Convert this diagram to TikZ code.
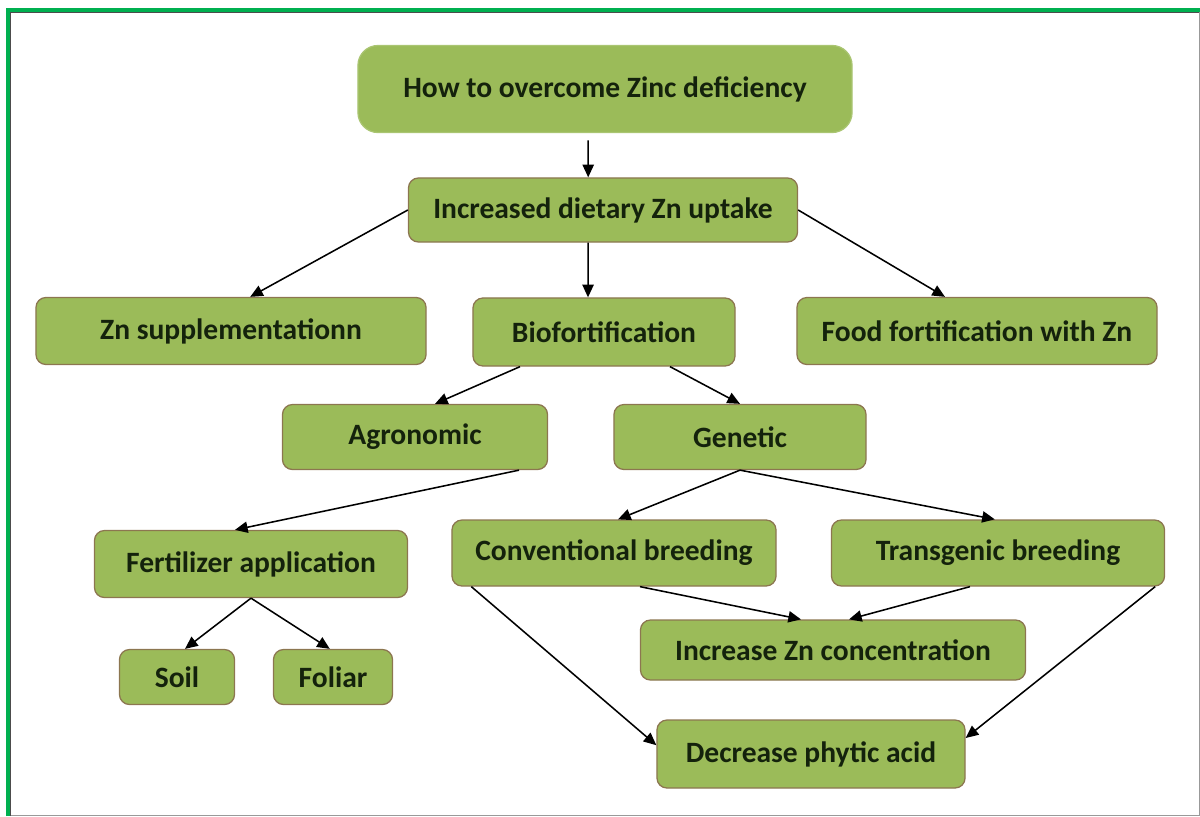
\documentclass[tikz,border=0pt]{standalone}
\usepackage{fontspec}
\setmainfont{Carlito}
\usetikzlibrary{positioning}
\usetikzlibrary{arrows.meta}
\definecolor{ZNgreen}{HTML}{9BBB59}
\definecolor{ZNedge}{HTML}{8C7650}
\definecolor{ZNtext}{HTML}{14220C}
\definecolor{ZNframe}{HTML}{00B050}

\begin{document}
\begin{tikzpicture}[x=0.025cm,y=-0.025cm,
  box/.style={draw=ZNedge,line width=0.9pt,fill=ZNgreen,rounded corners=0.25cm,
    text=ZNtext,font=\fontsize{21}{24}\selectfont\bfseries,inner sep=0pt},
  topbox/.style={box,draw=ZNgreen!85!white,rounded corners=0.5cm},
  link/.style={->,line width=1.1pt},
  >={Triangle[length=9pt,width=8pt]}]

\useasboundingbox (0,0) rectangle (1200,816);

% Frame
\draw[ZNframe,line width=2.2pt] (8,816) -- (8,10) -- (1200,10);
\draw[black!70,line width=0.5pt] (10.5,816) -- (10.5,12.5) -- (1200,12.5);
\draw[black!40,line width=0.6pt] (1199,12) -- (1199,815) -- (11,815);

% Boxes
\node[topbox,minimum width=12.35cm,minimum height=2.175cm] (top) at (605,89) {How to overcome Zinc deficiency};
\node[box,minimum width=9.725cm,minimum height=1.6cm] (inc) at (603,210) {Increased dietary Zn uptake};

\node[box,minimum width=9.75cm,minimum height=1.675cm] (zns) at (231,331) {Zn supplementationn};
\node[box,minimum width=6.55cm,minimum height=1.7cm] (bio) at (604,332) {Biofortification};
\node[box,minimum width=9.0cm,minimum height=1.675cm] (food) at (977,331) {Food fortification with Zn};

\node[box,minimum width=6.625cm,minimum height=1.625cm] (agro) at (415,437) {Agronomic};
\node[box,minimum width=6.3cm,minimum height=1.625cm] (gen) at (740,437) {Genetic};

\node[box,minimum width=7.825cm,minimum height=1.675cm] (fert) at (251,564) {Fertilizer application};
\node[box,minimum width=8.1cm,minimum height=1.65cm] (conv) at (614,553) {Conventional breeding};
\node[box,minimum width=8.325cm,minimum height=1.65cm] (trans) at (998,553) {Transgenic breeding};

\node[box,minimum width=9.625cm,minimum height=1.5cm] (incz) at (833,650) {Increase Zn concentration};
\node[box,minimum width=2.875cm,minimum height=1.375cm] (soil) at (177,677) {Soil};
\node[box,minimum width=2.975cm,minimum height=1.375cm] (foliar) at (333,677) {Foliar};

\node[box,minimum width=7.7cm,minimum height=1.7cm] (dec) at (811,754) {Decrease phytic acid};

% Arrows
\draw[link] ([xshift=-0.42cm,yshift=-0.18cm]top.south) -- ([xshift=-0.37cm]inc.north);
\draw[link] (inc.west) -- ([xshift=0.48cm]zns.north);
\draw[link] ([xshift=-0.37cm]inc.south) -- ([xshift=-0.4cm]bio.north);
\draw[link] (inc.east) -- ([xshift=-0.8cm]food.north);

\draw[link] ([xshift=-2.1cm]bio.south) -- ([xshift=0.5cm]agro.north);
\draw[link] ([xshift=1.65cm]bio.south) -- (gen.north);

\draw[link] ([xshift=2.6cm]agro.south) -- ([xshift=-0.4cm]fert.north);
\draw[link] (gen.south) -- ([xshift=0.1cm]conv.north);
\draw[link] (gen.south) -- ([xshift=-0.08cm]trans.north);

\draw[link] (fert.south) -- ([xshift=0.2cm]soil.north);
\draw[link] (fert.south) -- ([xshift=-0.08cm]foliar.north);

\draw[link] ([xshift=0.65cm]conv.south) -- ([xshift=-0.8cm]incz.north);
\draw[link] ([xshift=-0.7cm]trans.south) -- ([xshift=0.4cm]incz.north);

\draw[link] ([xshift=0.5cm]conv.south west) -- ([yshift=0.22cm]dec.west);
\draw[link] ([xshift=-0.25cm]trans.south east) -- ([yshift=0.4cm]dec.east);

\end{tikzpicture}
\end{document}
